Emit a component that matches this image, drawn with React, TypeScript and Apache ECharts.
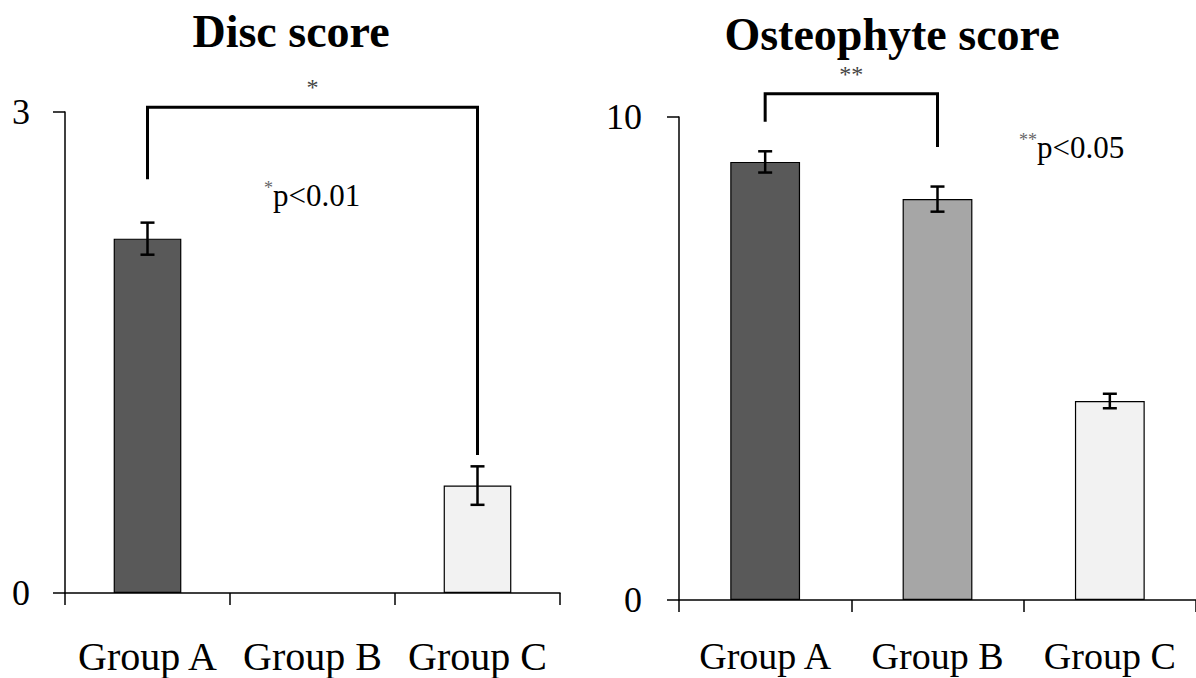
import React, { useEffect, useRef } from "react";
import * as echarts from "echarts";

const categories = ["Group A", "Group B", "Group C"];
const barColors = ["#595959", "#a6a6a6", "#f2f2f2"];

const discValues: (number | null)[] = [2.21, null, 0.67];
const discErrors: (number | null)[] = [0.1, null, 0.12];
const osteoValues = [9.07, 8.3, 4.12];
const osteoErrors = [0.22, 0.26, 0.15];

const discTicks = { min: 0, max: 3, interval: 3 };
const osteoTicks = { min: 0, max: 10, interval: 10 };

// bracket: [fromIndex, toIndex, topValue, leftBottomValue, rightBottomValue]
const discBracket = [[0, 2, 3.03, 2.58, 0.86]];
const osteoBracket = [[0, 1, 10.48, 9.9, 9.38]];
const discStars = "*";
const osteoStars = "**";

const titles = ["Disc score", "Osteophyte score"];
const pNotes = ["p<0.01", "p<0.05"];

const SERIF = "'Liberation Serif', 'Times New Roman', serif";

function errorRender(params: any, api: any) {
  const x = api.value(0);
  const v = api.value(1);
  const e = api.value(2);
  const top = api.coord([x, v + e]);
  const bot = api.coord([x, v - e]);
  const hw = 7;
  const st = { stroke: "#000", lineWidth: 2.5 };
  return {
    type: "group",
    children: [
      { type: "line", shape: { x1: top[0], y1: top[1], x2: bot[0], y2: bot[1] }, style: st },
      { type: "line", shape: { x1: top[0] - hw, y1: top[1], x2: top[0] + hw, y2: top[1] }, style: st },
      { type: "line", shape: { x1: bot[0] - hw, y1: bot[1], x2: bot[0] + hw, y2: bot[1] }, style: st },
    ],
  };
}

function bracketRender(stars: string) {
  return (params: any, api: any) => {
    const i0 = api.value(0);
    const i1 = api.value(1);
    const yt = api.value(2);
    const yl = api.value(3);
    const yr = api.value(4);
    const a = api.coord([i0, yl]);
    const b = api.coord([i0, yt]);
    const c = api.coord([i1, yt]);
    const d = api.coord([i1, yr]);
    return {
      type: "group",
      children: [
        {
          type: "polyline",
          shape: { points: [a, b, c, d] },
          style: { stroke: "#000", lineWidth: 3, fill: null },
        },
        {
          type: "text",
          x: (b[0] + c[0]) / 2,
          y: b[1] - 20,
          style: {
            text: stars,
            fill: "#444",
            font: `24px ${SERIF}`,
            align: "center",
            verticalAlign: "middle",
          },
        },
      ],
    };
  };
}

export default function App() {
  const ref = useRef<HTMLDivElement>(null);
  useEffect(() => {
    if (!ref.current) return;
    const chart = echarts.init(ref.current, null, { renderer: "svg" });
    const xAxisBase = (gridIndex: number, margin: number, size: number) => ({
      type: "category",
      gridIndex,
      data: categories,
      boundaryGap: true,
      axisLine: { show: true, lineStyle: { color: "#000", width: 1.5 } },
      axisTick: { show: true, length: 12, lineStyle: { color: "#000", width: 1.5 } },
      axisLabel: { color: "#000", fontFamily: SERIF, fontSize: size, margin, interval: 0 },
      splitLine: { show: false },
    });
    const yAxisBase = (gridIndex: number, t: any, margin: number) => ({
      type: "value",
      gridIndex,
      min: t.min,
      max: t.max,
      interval: t.interval,
      axisLine: { show: true, lineStyle: { color: "#000", width: 1.5 } },
      axisTick: { show: true, length: 12, lineStyle: { color: "#000", width: 1.5 } },
      axisLabel: { color: "#000", fontFamily: SERIF, fontSize: 36, margin },
      splitLine: { show: false },
    });
    const barSeries = (idx: number, values: (number | null)[], w: string) => ({
      type: "bar",
      xAxisIndex: idx,
      yAxisIndex: idx,
      barWidth: w,
      data: values.map((v, i) => ({
        value: v,
        itemStyle: { color: barColors[i], borderColor: "#000", borderWidth: 1.2 },
      })),
    });
    const errSeries = (idx: number, values: (number | null)[], errs: (number | null)[]) => ({
      type: "custom",
      xAxisIndex: idx,
      yAxisIndex: idx,
      renderItem: errorRender,
      data: values
        .map((v, i) => (v == null || errs[i] == null ? null : [i, v, errs[i]]))
        .filter((d) => d != null),
      z: 5,
    });
    const noteStyle = (stars: string, note: string) => ({
      text: `{s|${stars}}{n|${note}}`,
      rich: {
        s: { font: `18px ${SERIF}`, fill: "#666", verticalAlign: "top", padding: [0, 0, 14, 0] },
        n: { font: `31px ${SERIF}`, fill: "#000" },
      },
      verticalAlign: "middle",
    });
    chart.setOption({
      animation: false,
      backgroundColor: "#fff",
      grid: [
        { left: 65, right: 636, top: 112, bottom: 85 },
        { left: 679, right: -8, top: 117, bottom: 78 },
      ],
      xAxis: [xAxisBase(0, 43, 40), xAxisBase(1, 37, 38)],
      yAxis: [yAxisBase(0, discTicks, 35), yAxisBase(1, osteoTicks, 37)],
      series: [
        barSeries(0, discValues, "41%"),
        errSeries(0, discValues, discErrors),
        { type: "custom", xAxisIndex: 0, yAxisIndex: 0, renderItem: bracketRender(discStars), data: discBracket, clip: false },
        barSeries(1, osteoValues, "40.5%"),
        errSeries(1, osteoValues, osteoErrors),
        { type: "custom", xAxisIndex: 1, yAxisIndex: 1, renderItem: bracketRender(osteoStars), data: osteoBracket, clip: false },
      ],
      graphic: [
        {
          type: "text",
          x: 291,
          y: 31,
          style: { text: titles[0], font: `bold 46px ${SERIF}`, fill: "#000", align: "center", verticalAlign: "middle" },
        },
        {
          type: "text",
          x: 892,
          y: 34,
          style: { text: titles[1], font: `bold 46px ${SERIF}`, fill: "#000", align: "center", verticalAlign: "middle" },
        },
        { type: "text", x: 264, y: 195, style: noteStyle(discStars, pNotes[0]) },
        { type: "text", x: 1019, y: 147, style: noteStyle(osteoStars, pNotes[1]) },
      ],
    });
    return () => chart.dispose();
  }, []);
  return (
    <div
      ref={ref}
      style={{ position: "fixed", left: 0, top: 0, width: 1196, height: 678 }}
    />
  );
}
